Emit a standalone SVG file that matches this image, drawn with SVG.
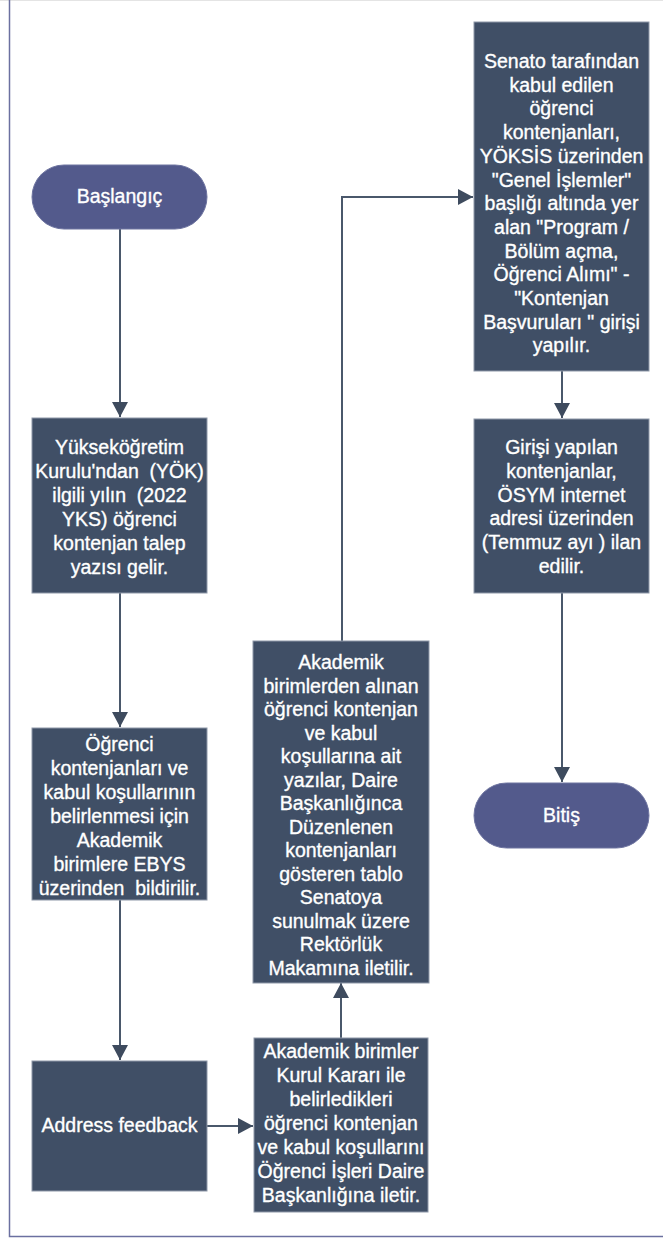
<svg xmlns="http://www.w3.org/2000/svg" width="663" height="1238" viewBox="0 0 663 1238">
<defs>
<style>
.box{fill:#404f66;stroke:#8e98a8;stroke-width:1}
.pill{fill:#535a8c;stroke:#6e74a0;stroke-width:1}
.t{font-family:"Liberation Sans",Arial,sans-serif;font-size:19.5px;fill:#ffffff;stroke:#ffffff;stroke-width:0.35;text-anchor:middle}
.c{fill:none;stroke:#4a586b;stroke-width:2}
</style>
<marker id="ah" markerUnits="userSpaceOnUse" markerWidth="16" markerHeight="16" refX="15" refY="8" orient="auto">
<path d="M0,0 L15,8 L0,16 Z" fill="#3e4b5e"/>
</marker>
</defs>
<rect x="0" y="0" width="663" height="1238" fill="#ffffff"/>
<line x1="0" y1="0.5" x2="663" y2="0.5" stroke="#e4e4e4" stroke-width="1"/>
<rect x="9.5" y="-2" width="700" height="1238.5" fill="none" stroke="#6b70a0" stroke-width="1.5"/>

<g id="connectors">
<path class="c" d="M120,229 V417" marker-end="url(#ah)"/>
<path class="c" d="M120,593 V727" marker-end="url(#ah)"/>
<path class="c" d="M120,900 V1060" marker-end="url(#ah)"/>
<path class="c" d="M207,1126 H253" marker-end="url(#ah)"/>
<path class="c" d="M341,1038 V983" marker-end="url(#ah)"/>
<path class="c" d="M342,641 V197 H473" marker-end="url(#ah)"/>
<path class="c" d="M562,371 V418" marker-end="url(#ah)"/>
<path class="c" d="M562,593 V782" marker-end="url(#ah)"/>
</g>

<g id="start">
<rect class="pill" x="32" y="165" width="175" height="64" rx="32"/>
<text class="t" x="119.5" y="203">Başlangıç</text>
</g>

<g id="yok">
<rect class="box" x="32" y="418" width="175" height="175"/>
<text class="t" xml:space="preserve"><tspan x="119.5" y="454">Yükseköğretim</tspan><tspan x="119.5" y="478">Kurulu'ndan  (YÖK)</tspan><tspan x="119.5" y="502">ilgili yılın  (2022</tspan><tspan x="119.5" y="526">YKS) öğrenci</tspan><tspan x="119.5" y="550">kontenjan talep</tspan><tspan x="119.5" y="574">yazısı gelir.</tspan></text>
</g>

<g id="bildirim">
<rect class="box" x="32" y="728" width="175" height="172"/>
<text class="t" xml:space="preserve"><tspan x="119.5" y="751">Öğrenci</tspan><tspan x="119.5" y="775">kontenjanları ve</tspan><tspan x="119.5" y="799">kabul koşullarının</tspan><tspan x="119.5" y="823">belirlenmesi için</tspan><tspan x="119.5" y="847">Akademik</tspan><tspan x="119.5" y="871">birimlere EBYS</tspan><tspan x="119.5" y="895">üzerinden  bildirilir.</tspan></text>
</g>

<g id="feedback">
<rect class="box" x="32" y="1061" width="175" height="130"/>
<text class="t" x="119.5" y="1132">Address feedback</text>
</g>

<g id="kurul">
<rect class="box" x="254" y="1038" width="174" height="174"/>
<text class="t"><tspan x="341" y="1058">Akademik birimler</tspan><tspan x="341" y="1082">Kurul Kararı ile</tspan><tspan x="341" y="1106">belirledikleri</tspan><tspan x="341" y="1130">öğrenci kontenjan</tspan><tspan x="341" y="1154">ve kabul koşullarını</tspan><tspan x="341" y="1178">Öğrenci İşleri Daire</tspan><tspan x="341" y="1202">Başkanlığına iletir.</tspan></text>
</g>

<g id="rektorluk">
<rect class="box" x="253" y="641" width="176" height="342"/>
<text class="t"><tspan x="341" y="669">Akademik</tspan><tspan x="341" y="692.5">birimlerden alınan</tspan><tspan x="341" y="716">öğrenci kontenjan</tspan><tspan x="341" y="739.5">ve kabul</tspan><tspan x="341" y="763">koşullarına ait</tspan><tspan x="341" y="786.5">yazılar, Daire</tspan><tspan x="341" y="810">Başkanlığınca</tspan><tspan x="341" y="833.5">Düzenlenen</tspan><tspan x="341" y="857">kontenjanları</tspan><tspan x="341" y="880.5">gösteren tablo</tspan><tspan x="341" y="904">Senatoya</tspan><tspan x="341" y="927.5">sunulmak üzere</tspan><tspan x="341" y="951">Rektörlük</tspan><tspan x="341" y="974.5">Makamına iletilir.</tspan></text>
</g>

<g id="senato">
<rect class="box" x="474" y="22" width="175" height="349"/>
<text class="t"><tspan x="561.5" y="68">Senato tarafından</tspan><tspan x="561.5" y="91.7">kabul edilen</tspan><tspan x="561.5" y="115.4">öğrenci</tspan><tspan x="561.5" y="139.1">kontenjanları,</tspan><tspan x="561.5" y="162.8">YÖKSİS üzerinden</tspan><tspan x="561.5" y="186.5">"Genel İşlemler"</tspan><tspan x="561.5" y="210.2">başlığı altında yer</tspan><tspan x="561.5" y="233.9">alan "Program /</tspan><tspan x="561.5" y="257.6">Bölüm açma,</tspan><tspan x="561.5" y="281.3">Öğrenci Alımı" -</tspan><tspan x="561.5" y="305">"Kontenjan</tspan><tspan x="561.5" y="328.7">Başvuruları " girişi</tspan><tspan x="561.5" y="352.4">yapılır.</tspan></text>
</g>

<g id="osym">
<rect class="box" x="474" y="419" width="175" height="174"/>
<text class="t"><tspan x="561.5" y="454">Girişi yapılan</tspan><tspan x="561.5" y="477.8">kontenjanlar,</tspan><tspan x="561.5" y="501.6">ÖSYM internet</tspan><tspan x="561.5" y="525.4">adresi üzerinden</tspan><tspan x="561.5" y="549.2">(Temmuz ayı ) ilan</tspan><tspan x="561.5" y="573">edilir.</tspan></text>
</g>

<g id="end">
<rect class="pill" x="474" y="783" width="175" height="65" rx="32.5"/>
<text class="t" x="561.5" y="822">Bitiş</text>
</g>
</svg>
